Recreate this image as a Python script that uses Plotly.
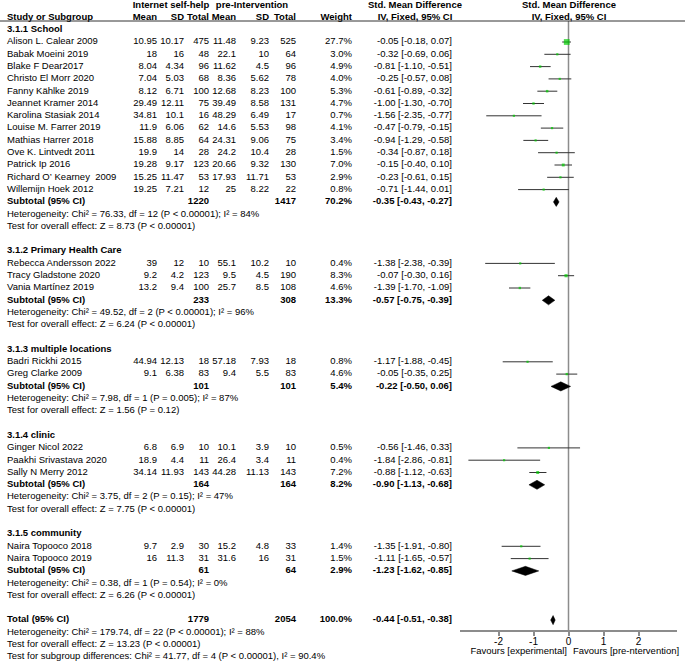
import plotly.graph_objects as go

# ---------------- data ----------------
groups = ["3.1.1 School", "3.1.2 Primary Health Care", "3.1.3 multiple locations",
          "3.1.4 clinic", "3.1.5 community"]

study = ["Alison L. Calear 2009", "Babak Moeini 2019", "Blake F Dear2017", "Christo El Morr 2020",
         "Fanny Kählke 2019", "Jeannet Kramer 2014", "Karolina Stasiak 2014", "Louise M. Farrer 2019",
         "Mathias Harrer 2018", "Ove K. Lintvedt 2011", "Patrick Ip 2016",
         "Richard O’\u00a0Kearney\u00a0 2009", "Willemijn Hoek 2012",
         "Rebecca Andersson 2022", "Tracy Gladstone 2020", "Vania Martínez 2019",
         "Badri Rickhi 2015", "Greg Clarke 2009",
         "Ginger Nicol 2022", "Paakhi Srivastava 2020", "Sally N Merry 2012",
         "Naira Topooco 2018", "Naira Topooco 2019"]
grp = [0]*13 + [1]*3 + [2]*2 + [3]*3 + [4]*2

mean1 = [10.95, 18, 8.04, 7.04, 8.12, 29.49, 34.81, 11.9, 15.88, 19.9, 19.28, 15.25, 19.25,
         39, 9.2, 13.2, 44.94, 9.1, 6.8, 18.9, 34.14, 9.7, 16]
sd1 = [10.17, 16, 4.34, 5.03, 6.71, 12.11, 10.1, 6.06, 8.85, 14, 9.17, 11.47, 7.21,
       12, 4.2, 9.4, 12.13, 6.38, 6.9, 4.4, 11.93, 2.9, 11.3]
n1 = [475, 48, 96, 68, 100, 75, 16, 62, 64, 28, 123, 53, 12,
      10, 123, 100, 18, 83, 10, 11, 143, 30, 31]
mean2 = [11.48, 22.1, 11.62, 8.36, 12.68, 39.49, 48.29, 14.6, 24.31, 24.2, 20.66, 17.93, 25,
         55.1, 9.5, 25.7, 57.18, 9.4, 10.1, 26.4, 44.28, 15.2, 31.6]
sd2 = [9.23, 10, 4.5, 5.62, 8.23, 8.58, 6.49, 5.53, 9.06, 10.4, 9.32, 11.71, 8.22,
       10.2, 4.5, 8.5, 7.93, 5.5, 3.9, 3.4, 11.13, 4.8, 16]
n2 = [525, 64, 96, 78, 100, 131, 17, 98, 75, 28, 130, 53, 22,
      10, 190, 108, 18, 83, 10, 11, 143, 33, 31]
weight = [27.7, 3.0, 4.9, 4.0, 5.3, 4.7, 0.7, 4.1, 3.4, 1.5, 7.0, 2.9, 0.8,
          0.4, 8.3, 4.6, 0.8, 4.6, 0.5, 0.4, 7.2, 1.4, 1.5]
smd = [-0.05, -0.32, -0.81, -0.25, -0.61, -1.00, -1.56, -0.47, -0.94, -0.34, -0.15, -0.23, -0.71,
       -1.38, -0.07, -1.39, -1.17, -0.05, -0.56, -1.84, -0.88, -1.35, -1.11]
lo = [-0.18, -0.69, -1.10, -0.57, -0.89, -1.30, -2.35, -0.79, -1.29, -0.87, -0.40, -0.61, -1.44,
      -2.38, -0.30, -1.70, -1.88, -0.35, -1.46, -2.86, -1.12, -1.91, -1.65]
hi = [0.07, 0.06, -0.51, 0.08, -0.32, -0.70, -0.77, -0.15, -0.58, 0.18, 0.10, 0.15, 0.01,
      -0.39, 0.16, -1.09, -0.45, 0.25, 0.33, -0.81, -0.63, -0.80, -0.57]

sub_n1 = [1220, 233, 101, 164, 61]
sub_n2 = [1417, 308, 101, 164, 64]
sub_w = [70.2, 13.3, 5.4, 8.2, 2.9]
sub_smd = [-0.35, -0.57, -0.22, -0.90, -1.23]
sub_lo = [-0.43, -0.75, -0.50, -1.13, -1.62]
sub_hi = [-0.27, -0.39, 0.06, -0.68, -0.85]
sub_het = ["Chi² = 76.33, df = 12 (P < 0.00001); I² = 84%",
           "Chi² = 49.52, df = 2 (P < 0.00001); I² = 96%",
           "Chi² = 7.98, df = 1 (P = 0.005); I² = 87%",
           "Chi² = 3.75, df = 2 (P = 0.15); I² = 47%",
           "Chi² = 0.38, df = 1 (P = 0.54); I² = 0%"]
sub_z = ["Z = 8.73 (P < 0.00001)", "Z = 6.24 (P < 0.00001)", "Z = 1.56 (P = 0.12)",
         "Z = 7.75 (P < 0.00001)", "Z = 6.26 (P < 0.00001)"]

tot_n1, tot_n2, tot_w = 1779, 2054, 100.0
tot_smd, tot_lo, tot_hi = -0.44, -0.51, -0.38
tot_het = "Chi² = 179.74, df = 22 (P < 0.00001); I² = 88%"
tot_z = "Z = 13.23 (P < 0.00001)"
sub_diff = "Chi² = 41.77, df = 4 (P < 0.00001), I² = 90.4%"

tick_vals = [-2, -1, 0, 1, 2]
tick_text = ["-2", "-1", "0", "1", "2"]

# ---------------- layout helpers ----------------
W, H = 685, 661
ROW0, PITCH = 42.0, 12.3


def prow(py):
    return (py - ROW0) / PITCH


FONT = "Liberation Sans, Arial, sans-serif"
FS = 9.5

colx = {"name": 7, "m1": 157, "sd1": 184, "n1": 209, "m2": 236, "sd2": 269, "n2": 296,
        "w": 352, "ci": 452}
cols = {k: ([], []) for k in colx}


def put(col, r, txt):
    cols[col][0].append(r)
    cols[col][1].append(txt)


def fmt(v):
    return f"{v:g}"


def ci(e, a, b):
    return f"{e:.2f} [{a:.2f}, {b:.2f}]"


study_row = [0]*len(study)
sub_row = [0]*len(groups)
r = -1
for g in range(len(groups)):
    put("name", r, f"<b>{groups[g]}</b>")
    r += 1
    for i in range(len(study)):
        if grp[i] != g:
            continue
        put("name", r, study[i])
        put("m1", r, fmt(mean1[i])); put("sd1", r, fmt(sd1[i])); put("n1", r, fmt(n1[i]))
        put("m2", r, fmt(mean2[i])); put("sd2", r, fmt(sd2[i])); put("n2", r, fmt(n2[i]))
        put("w", r, f"{weight[i]:.1f}%")
        put("ci", r, ci(smd[i], lo[i], hi[i]))
        study_row[i] = r
        r += 1
    put("name", r, "<b>Subtotal (95% CI)</b>")
    put("n1", r, f"<b>{sub_n1[g]}</b>"); put("n2", r, f"<b>{sub_n2[g]}</b>")
    put("w", r, f"<b>{sub_w[g]:.1f}%</b>")
    put("ci", r, f"<b>{ci(sub_smd[g], sub_lo[g], sub_hi[g])}</b>")
    sub_row[g] = r
    r += 1
    put("name", r, "Heterogeneity: " + sub_het[g]); r += 1
    put("name", r, "Test for overall effect: " + sub_z[g]); r += 1
    r += 1

tot_row = r
put("name", r, "<b>Total (95% CI)</b>")
put("n1", r, f"<b>{tot_n1}</b>"); put("n2", r, f"<b>{tot_n2}</b>")
put("w", r, f"<b>{tot_w:.1f}%</b>")
put("ci", r, f"<b>{ci(tot_smd, tot_lo, tot_hi)}</b>")
r += 1
put("name", r, "Heterogeneity: " + tot_het); r += 1
put("name", r, "Test for overall effect: " + tot_z); r += 1
put("name", r, "Test for subgroup differences: " + sub_diff); r += 1

# headers
hdr = -2
put("name", hdr, "<b>Study or Subgroup</b>")
for k, t in [("m1", "Mean"), ("sd1", "SD"), ("n1", "Total"), ("m2", "Mean"),
             ("sd2", "SD"), ("n2", "Total"), ("w", "Weight")]:
    put(k, hdr, f"<b>{t}</b>")

fig = go.Figure()

for k, (ys, ts) in cols.items():
    pos = "middle right" if k == "name" else "middle left"
    fig.add_trace(go.Scatter(x=[colx[k]]*len(ys), y=ys, text=ts, mode="text",
                             textposition=pos, xaxis="x2", yaxis="y",
                             textfont=dict(family=FONT, size=FS, color="#000"),
                             hoverinfo="skip", showlegend=False, cliponaxis=False))

# centered headers
cx = [171, 252, 415, 569, 415, 569]
cy = [prow(6)] * 4 + [-2, -2]
ct = ["<b>Internet self-help</b>", "<b>pre-Intervention</b>", "<b>Std. Mean Difference</b>",
      "<b>Std. Mean Difference</b>", "<b>IV, Fixed, 95% CI</b>", "<b>IV, Fixed, 95% CI</b>"]
fig.add_trace(go.Scatter(x=cx, y=cy, text=ct, mode="text", textposition="middle center",
                         xaxis="x2", yaxis="y", textfont=dict(family=FONT, size=FS, color="#000"),
                         hoverinfo="skip", showlegend=False, cliponaxis=False))

# favours labels
fav_r = prow(652)
fig.add_trace(go.Scatter(x=[567], y=[fav_r], text=["Favours [experimental]"], mode="text",
                         textposition="middle left", xaxis="x2", yaxis="y",
                         textfont=dict(family=FONT, size=FS, color="#000"),
                         hoverinfo="skip", showlegend=False, cliponaxis=False))
fig.add_trace(go.Scatter(x=[573], y=[fav_r], text=["Favours [pre-ntervention]"], mode="text",
                         textposition="middle right", xaxis="x2", yaxis="y",
                         textfont=dict(family=FONT, size=FS, color="#000"),
                         hoverinfo="skip", showlegend=False, cliponaxis=False))

# CI lines
lx, ly = [], []
for i in range(len(study)):
    lx += [lo[i], hi[i], None]
    ly += [study_row[i], study_row[i], None]
fig.add_trace(go.Scatter(x=lx, y=ly, mode="lines", line=dict(color="#333", width=1),
                         xaxis="x", yaxis="y", hoverinfo="skip", showlegend=False))

# squares
sizes = [max(2.2, 1.1 * w ** 0.5) for w in weight]
fig.add_trace(go.Scatter(x=smd, y=study_row, mode="markers",
                         marker=dict(symbol="square", size=sizes, color="#00cc00",
                                     line=dict(width=0)),
                         xaxis="x", yaxis="y", hoverinfo="skip", showlegend=False))

# diamonds
hh = 0.37
for e, a, b, rr in list(zip(sub_smd, sub_lo, sub_hi, sub_row)) + [(tot_smd, tot_lo, tot_hi, tot_row)]:
    fig.add_trace(go.Scatter(x=[a, e, b, e, a], y=[rr, rr - hh, rr, rr + hh, rr],
                             mode="lines", fill="toself", fillcolor="#000",
                             line=dict(color="#000", width=0.5),
                             xaxis="x", yaxis="y", hoverinfo="skip", showlegend=False))

axis_py = 631
fig.add_shape(type="line", xref="x", yref="y", x0=0, x1=0, y0=prow(21), y1=prow(axis_py),
              line=dict(color="#8c8c8c", width=1.5), layer="below")
fig.add_shape(type="line", xref="paper", yref="y", x0=0, x1=1, y0=prow(21), y1=prow(21),
              line=dict(color="#333", width=1))

fig.update_layout(
    width=W, height=H, margin=dict(l=0, r=0, t=0, b=0),
    paper_bgcolor="white", plot_bgcolor="rgba(0,0,0,0)",
    font=dict(family=FONT, size=FS, color="#000"),
    hovermode=False,
    xaxis=dict(domain=[460 / W, 677 / W], range=[-3.1, 3.1], anchor="free",
               position=1 - axis_py / H, showline=True, linecolor="#8c8c8c", linewidth=1.5,
               ticks="outside", ticklen=4, tickcolor="#8c8c8c", tickwidth=1.5,
               ticklabelstandoff=-3,
               tickvals=tick_vals, ticktext=tick_text,
               tickfont=dict(family=FONT, size=10, color="#000"),
               showgrid=False, zeroline=False, fixedrange=True),
    xaxis2=dict(domain=[0, 1], range=[0, W], anchor="y", visible=False, fixedrange=True),
    yaxis=dict(domain=[0, 1], range=[prow(H), prow(0)], visible=False, fixedrange=True),
)

fig.write_html("out.html", config={"displayModeBar": False},
               post_script="document.body.style.margin='0';document.body.style.overflow='hidden';")
